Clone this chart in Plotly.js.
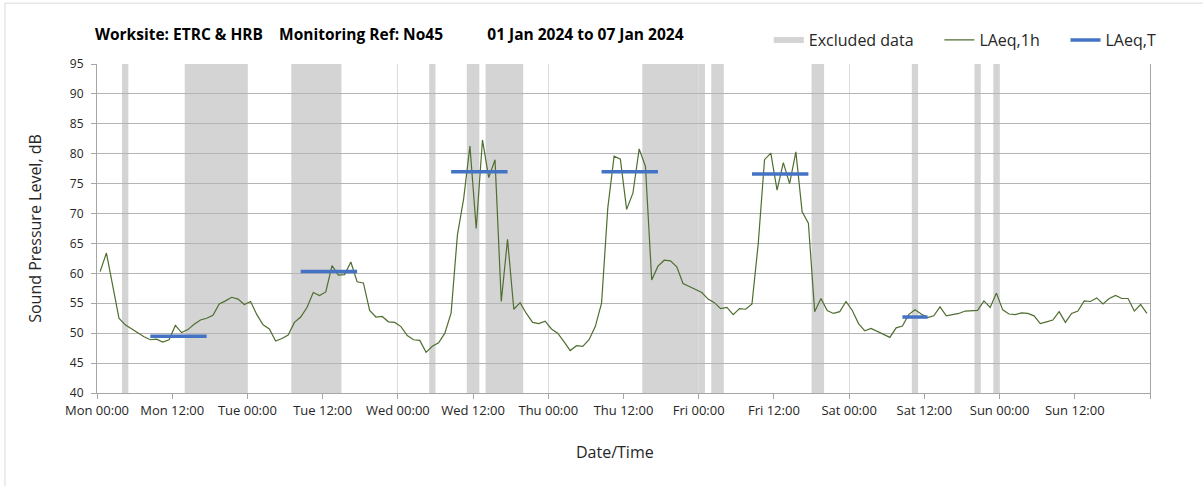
<!DOCTYPE html>
<html>
<head>
<meta charset="utf-8">
<script src="https://cdn.plot.ly/plotly-3.0.1.min.js"></script>
<style>
  html, body { margin: 0; padding: 0; background: #ffffff; }
  #chart { width: 1203px; height: 486px; }
</style>
</head>
<body>
<div id="chart"></div>
<script>
// ---- Data ----
// Hourly LAeq,1h values, Mon 01 Jan 2024 00:00 .. Sun 07 Jan 2024 23:00 (plotted at mid-hour)
const seriesStart = '2024-01-01 00:00';
const laeq1h = [
  // Mon
  60.3, 63.4, 58.0, 52.5, 51.4, 50.7, 50.0, 49.4, 48.9, 49.0, 48.5, 48.9,
  51.3, 50.1, 50.6, 51.5, 52.2, 52.5, 53.0, 54.9, 55.4, 56.0, 55.7, 54.8,
  // Tue
  55.3, 53.1, 51.4, 50.7, 48.7, 49.1, 49.7, 51.8, 52.7, 54.3, 56.8, 56.3,
  56.9, 61.3, 59.7, 59.8, 61.9, 58.6, 58.4, 53.8, 52.7, 52.8, 51.9, 51.8,
  // Wed
  51.1, 49.6, 48.9, 48.8, 46.8, 47.8, 48.4, 50.0, 53.4, 66.4, 72.5, 81.3,
  67.5, 82.3, 76.0, 79.0, 55.3, 65.7, 54.0, 55.1, 53.3, 51.8, 51.6, 52.0,
  // Thu
  50.7, 50.0, 48.6, 47.1, 47.9, 47.8, 48.9, 51.1, 55.0, 71.0, 79.6, 79.1,
  70.7, 73.4, 80.8, 77.9, 58.9, 61.2, 62.2, 62.1, 61.1, 58.3, 57.8, 57.3,
  // Fri
  56.8, 55.7, 55.1, 54.1, 54.3, 53.1, 54.1, 54.0, 54.9, 65.0, 79.0, 80.1,
  73.9, 78.5, 75.0, 80.3, 70.3, 68.4, 53.6, 55.8, 53.8, 53.3, 53.6, 55.3,
  // Sat
  53.8, 51.6, 50.4, 50.8, 50.3, 49.9, 49.3, 50.9, 51.2, 53.1, 53.9, 53.2,
  52.6, 52.9, 54.4, 52.9, 53.1, 53.3, 53.7, 53.7, 53.8, 55.4, 54.3, 56.7,
  // Sun
  53.9, 53.2, 53.1, 53.4, 53.3, 52.9, 51.6, 51.9, 52.2, 53.6, 51.8, 53.3,
  53.7, 55.4, 55.3, 55.9, 54.9, 55.8, 56.3, 55.8, 55.8, 53.7, 54.8, 53.3
];

// LAeq,T daytime periods
const periodStart = ['2024-01-01 08:30', '2024-01-02 08:30', '2024-01-03 08:30', '2024-01-04 08:30', '2024-01-05 08:30', '2024-01-06 08:30'];
const periodEnd   = ['2024-01-01 17:30', '2024-01-02 17:30', '2024-01-03 17:30', '2024-01-04 17:30', '2024-01-05 17:30', '2024-01-06 12:30'];
const periodValue = [49.5, 60.3, 77.0, 77.0, 76.6, 52.7];

// Excluded data periods
const excludedStart = ['2024-01-01 04:00', '2024-01-01 14:00', '2024-01-02 07:00', '2024-01-03 05:00', '2024-01-03 11:00', '2024-01-03 14:00',
                       '2024-01-04 15:00', '2024-01-05 02:00', '2024-01-05 18:00', '2024-01-06 10:00', '2024-01-06 20:00', '2024-01-06 23:00'];
const excludedEnd   = ['2024-01-01 05:00', '2024-01-02 00:00', '2024-01-02 15:00', '2024-01-03 06:00', '2024-01-03 13:00', '2024-01-03 20:00',
                       '2024-01-05 01:00', '2024-01-05 04:00', '2024-01-05 20:00', '2024-01-06 11:00', '2024-01-06 21:00', '2024-01-07 00:00'];

// X tick positions and labels
const tickTimes  = ['2024-01-01 00:00', '2024-01-01 12:00', '2024-01-02 00:00', '2024-01-02 12:00', '2024-01-03 00:00', '2024-01-03 12:00',
                    '2024-01-04 00:00', '2024-01-04 12:00', '2024-01-05 00:00', '2024-01-05 12:00', '2024-01-06 00:00', '2024-01-06 12:00',
                    '2024-01-07 00:00', '2024-01-07 12:00'];
const tickLabels = ['Mon 00:00', 'Mon 12:00', 'Tue 00:00', 'Tue 12:00', 'Wed 00:00', 'Wed 12:00', 'Thu 00:00', 'Thu 12:00',
                    'Fri 00:00', 'Fri 12:00', 'Sat 00:00', 'Sat 12:00', 'Sun 00:00', 'Sun 12:00'];
const axisRange = ['2024-01-01 00:00', '2024-01-08 00:00'];

// ---- Build ----
function fmt(ms) {
  return new Date(ms).toISOString().slice(0, 19).replace('T', ' ');
}
const t0 = Date.parse(seriesStart.replace(' ', 'T') + ':00Z');
const hourTimes = laeq1h.map((_, i) => fmt(t0 + (i + 0.5) * 3600000));

const tx = [], ty = [];
periodStart.forEach((s, i) => {
  tx.push(s, periodEnd[i], null);
  ty.push(periodValue[i], periodValue[i], null);
});

const FONT = 'Open Sans, Noto Sans, sans-serif';
const BAND = '#d4d4d4';
const NB = '\u00a0';
const PADNAME = NB.repeat(5);

const traces = [
  { type: 'scatter', x: [null], y: [null], mode: 'none', fill: 'toself', fillcolor: BAND,
    name: 'Excluded data' + PADNAME, hoverinfo: 'skip' },
  { type: 'scatter', x: hourTimes, y: laeq1h, mode: 'lines', name: 'LAeq,1h' + PADNAME,
    line: { color: '#4f6e30', width: 1.2 } },
  { type: 'scatter', x: tx, y: ty, mode: 'lines', name: 'LAeq,T',
    line: { color: '#4472c4', width: 3.5 }, connectgaps: false }
];

const shapes = excludedStart.map((s, i) => ({
  type: 'rect', xref: 'x', yref: 'paper', x0: s, x1: excludedEnd[i], y0: 0, y1: 1,
  fillcolor: BAND, line: { width: 0 }, layer: 'below'
}));
// outer chart frame (left and top edges)
shapes.push({ type: 'line', xref: 'paper', yref: 'paper', x0: -0.0874, x1: -0.0874, y0: -0.29, y1: 1.185,
              line: { color: '#d9d9d9', width: 1 } });
shapes.push({ type: 'line', xref: 'paper', yref: 'paper', x0: -0.0874, x1: 1.06, y0: 1.185, y1: 1.185,
              line: { color: '#d9d9d9', width: 1 } });

const layout = {
  width: 1203, height: 486,
  margin: { l: 97, r: 53, t: 64, b: 93, pad: 0 },
  paper_bgcolor: '#ffffff', plot_bgcolor: '#ffffff',
  font: { family: FONT, color: '#262626' },
  title: {
    text: '<b>Worksite: ETRC & HRB' + NB.repeat(4) + 'Monitoring Ref: No45' + NB.repeat(11) + '01 Jan 2024 to 07 Jan 2024</b>',
    font: { family: FONT, size: 15.5, color: '#000000' },
    xref: 'container', yref: 'container', x: 95 / 1203, xanchor: 'left', y: 1 - 35 / 486, yanchor: 'middle'
  },
  showlegend: true,
  legend: {
    orientation: 'h', x: 0.638, xanchor: 'left', y: 1.073, yanchor: 'middle',
    font: { family: FONT, size: 16, color: '#262626' }, bgcolor: 'rgba(0,0,0,0)', traceorder: 'normal'
  },
  xaxis: {
    type: 'date', range: axisRange, tickmode: 'array', tickvals: tickTimes, ticktext: tickLabels,
    ticks: 'outside', ticklen: 5, tickcolor: '#a6a6a6', tickfont: { family: FONT, size: 13, color: '#262626' },
    showline: true, linecolor: '#a6a6a6', linewidth: 1, showgrid: false, zeroline: false,
    minor: { tickmode: 'linear', tick0: '2024-01-01', dtick: 86400000, showgrid: true, gridcolor: '#dcdcdc', gridwidth: 1,
             ticks: 'outside', ticklen: 5, tickcolor: '#a6a6a6' }
  },
  yaxis: {
    range: [40, 95], dtick: 5, tick0: 40,
    ticks: 'outside', ticklen: 5, tickcolor: '#a6a6a6', tickfont: { family: FONT, size: 12, color: '#262626' },
    ticklabelstandoff: 5,
    showline: true, linecolor: '#a6a6a6', linewidth: 1, mirror: true,
    showgrid: true, gridcolor: '#b4b4b4', gridwidth: 1, zeroline: false,
    title: { text: 'Sound Pressure Level, dB', font: { family: FONT, size: 16, color: '#262626' }, standoff: 24 }
  },
  annotations: [{
    text: 'Date/Time', xref: 'paper', yref: 'paper', x: (615 - 97) / 1053, y: (393 - 452) / 329,
    xanchor: 'center', yanchor: 'middle', showarrow: false, font: { family: FONT, size: 16, color: '#262626' }
  }],
  shapes: shapes
};

Plotly.newPlot('chart', traces, layout, { displayModeBar: false, staticPlot: true });
</script>
</body>
</html>
